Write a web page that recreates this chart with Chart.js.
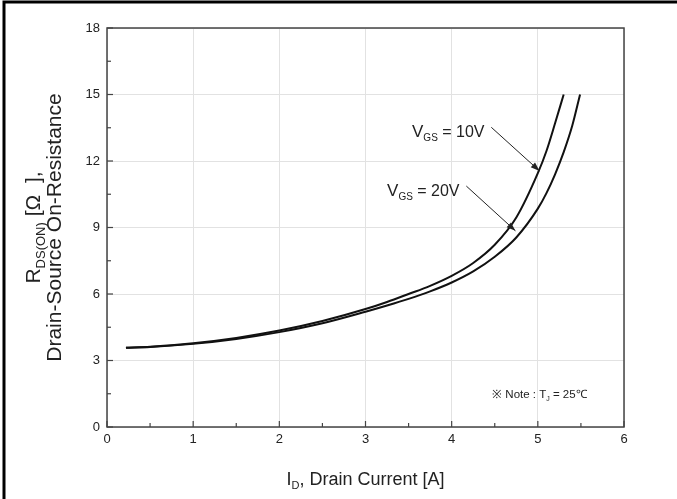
<!DOCTYPE html>
<html><head><meta charset="utf-8">
<style>html,body{margin:0;padding:0;background:#fff;}#wrap{position:relative;width:677px;height:499px;}canvas{display:block;}</style>
<script src="https://cdn.jsdelivr.net/npm/chart.js@4/dist/chart.umd.min.js"></script>
</head><body><div id="wrap"><canvas id="c" width="677" height="499"></canvas></div>
<script>
// ---- data ----
const vgs10Current = [0.22,0.5,1.0,1.5,2.0,2.5,3.0,3.25,3.5,3.75,4.0,4.25,4.5,4.75,5.0,5.1,5.2,5.3];
const vgs10Resist  = [3.58,3.62,3.78,4.02,4.35,4.78,5.32,5.64,6.0,6.37,6.82,7.4,8.22,9.45,11.45,12.45,13.7,15.0];
const vgs20Current = [0.22,0.5,1.0,1.5,2.0,2.5,3.0,3.25,3.5,3.75,4.0,4.25,4.5,4.75,5.0,5.1,5.2,5.3,5.4,5.49];
const vgs20Resist  = [3.58,3.61,3.75,3.97,4.28,4.68,5.2,5.48,5.78,6.12,6.52,7.02,7.68,8.55,9.85,10.55,11.4,12.4,13.6,15.0];
const xTicks = [0,1,2,3,4,5,6];
const yTicks = [0,3,6,9,12,15,18];
const seriesNames = ['VGS = 10V','VGS = 20V'];

const FONT = '"Liberation Sans", Arial, sans-serif';
function pts(xs, ys){ return xs.map((x,i)=>({x:x, y:ys[i]})); }

function richWidth(ctx, parts){
  let w=0; parts.forEach(p=>{ctx.font=p.s+'px '+FONT; w+=ctx.measureText(p.t).width;}); return w;
}
function drawRich(ctx, parts, x, y){
  let cx=x;
  parts.forEach(p=>{ctx.font=p.s+'px '+FONT; ctx.fillText(p.t, cx, y+(p.dy||0)); cx+=ctx.measureText(p.t).width;});
}
function arrow(ctx, x1,y1,x2,y2){
  ctx.beginPath(); ctx.moveTo(x1,y1); ctx.lineTo(x2,y2); ctx.stroke();
  const a=Math.atan2(y2-y1,x2-x1), L=9, W=3.2;
  ctx.beginPath();
  ctx.moveTo(x2,y2);
  ctx.lineTo(x2-L*Math.cos(a)+W*Math.sin(a), y2-L*Math.sin(a)-W*Math.cos(a));
  ctx.lineTo(x2-L*Math.cos(a)-W*Math.sin(a), y2-L*Math.sin(a)+W*Math.cos(a));
  ctx.closePath(); ctx.fill();
}

const decor = {
  id:'decor',
  afterDatasetsDraw(chart){
    const ctx=chart.ctx, a=chart.chartArea, xs=chart.scales.x, ys=chart.scales.y;
    ctx.save();
    // page frame (left + top)
    ctx.strokeStyle='#000'; ctx.lineWidth=3;
    ctx.beginPath(); ctx.moveTo(4,499); ctx.lineTo(4,2); ctx.lineTo(677,2); ctx.stroke();
    // plot frame
    ctx.strokeStyle='#444'; ctx.lineWidth=1.5;
    ctx.strokeRect(a.left, a.top, a.right-a.left, a.bottom-a.top);
    // inward ticks
    ctx.strokeStyle='#444'; ctx.lineWidth=1.2;
    for(let v=0; v<=6.001; v+=0.5){
      const px=xs.getPixelForValue(v), L=(Math.abs(v-Math.round(v))<1e-6)?6:4;
      ctx.beginPath(); ctx.moveTo(px,a.bottom); ctx.lineTo(px,a.bottom-L); ctx.stroke();
    }
    for(let v=0; v<=18.001; v+=1.5){
      const py=ys.getPixelForValue(v), L=(Math.abs(v/3-Math.round(v/3))<1e-6)?6:4;
      ctx.beginPath(); ctx.moveTo(a.left,py); ctx.lineTo(a.left+L,py); ctx.stroke();
    }
    ctx.fillStyle='#222'; ctx.textBaseline='alphabetic'; ctx.textAlign='left';
    // annotations
    drawRich(ctx,[{t:'V',s:17},{t:'GS',s:10,dy:4},{t:' = 10V',s:16}], xs.getPixelForValue(3.54), ys.getPixelForValue(13.1));
    drawRich(ctx,[{t:'V',s:17},{t:'GS',s:10,dy:4},{t:' = 20V',s:16}], xs.getPixelForValue(3.25), ys.getPixelForValue(10.4));
    ctx.strokeStyle='#222'; ctx.fillStyle='#222'; ctx.lineWidth=1;
    arrow(ctx, xs.getPixelForValue(4.46), ys.getPixelForValue(13.52), xs.getPixelForValue(5.02), ys.getPixelForValue(11.55));
    arrow(ctx, xs.getPixelForValue(4.17), ys.getPixelForValue(10.87), xs.getPixelForValue(4.74), ys.getPixelForValue(8.85));
    // note
    drawRich(ctx,[{t:'※ Note : T',s:11.5},{t:'J',s:7,dy:3},{t:' = 25℃',s:11.5}], xs.getPixelForValue(4.47), ys.getPixelForValue(1.3));
    // x title
    const xt=[{t:'I',s:18},{t:'D',s:11,dy:4},{t:', Drain Current [A]',s:18}];
    const xw=richWidth(ctx,xt);
    drawRich(ctx, xt, (a.left+a.right)/2 - xw/2, 485);
    // y title (rotated, two lines)
    const cy=(a.top+a.bottom)/2;
    ctx.translate(0,cy); ctx.rotate(-Math.PI/2);
    const y1=[{t:'R',s:21},{t:'DS(ON)',s:13,dy:5},{t:' [Ω  ],',s:21}];
    const w1=richWidth(ctx,y1);
    drawRich(ctx, y1, -w1/2, 40);
    const y2=[{t:'Drain-Source On-Resistance',s:21}];
    const w2=richWidth(ctx,y2);
    drawRich(ctx, y2, -w2/2, 61);
    ctx.restore();
  }
};

new Chart(document.getElementById('c'), {
  type:'line',
  data:{ datasets:[
    {label:seriesNames[0], data:pts(vgs10Current,vgs10Resist), borderColor:'#111', borderWidth:2, pointRadius:0, cubicInterpolationMode:'monotone', fill:false},
    {label:seriesNames[1], data:pts(vgs20Current,vgs20Resist), borderColor:'#111', borderWidth:2, pointRadius:0, cubicInterpolationMode:'monotone', fill:false}
  ]},
  options:{
    responsive:false, animation:false, devicePixelRatio:1,
    layout:{padding:{top:28,right:53,left:0,bottom:0}},
    plugins:{legend:{display:false}, tooltip:{enabled:false}},
    scales:{
      x:{type:'linear', min:0, max:6,
        afterBuildTicks(s){ s.ticks = xTicks.map(v=>({value:v})); },
        afterFit(s){ s.height=72; },
        grid:{color:'#e2e2e2', drawTicks:false}, border:{display:false},
        ticks:{color:'#222', font:{size:13, family:FONT}, padding:5}},
      y:{type:'linear', min:0, max:18,
        afterBuildTicks(s){ s.ticks = yTicks.map(v=>({value:v})); },
        afterFit(s){ s.width=107; },
        grid:{color:'#e2e2e2', drawTicks:false}, border:{display:false},
        ticks:{color:'#222', font:{size:13, family:FONT}, padding:7}}
    }
  },
  plugins:[decor]
});
</script></body></html>
